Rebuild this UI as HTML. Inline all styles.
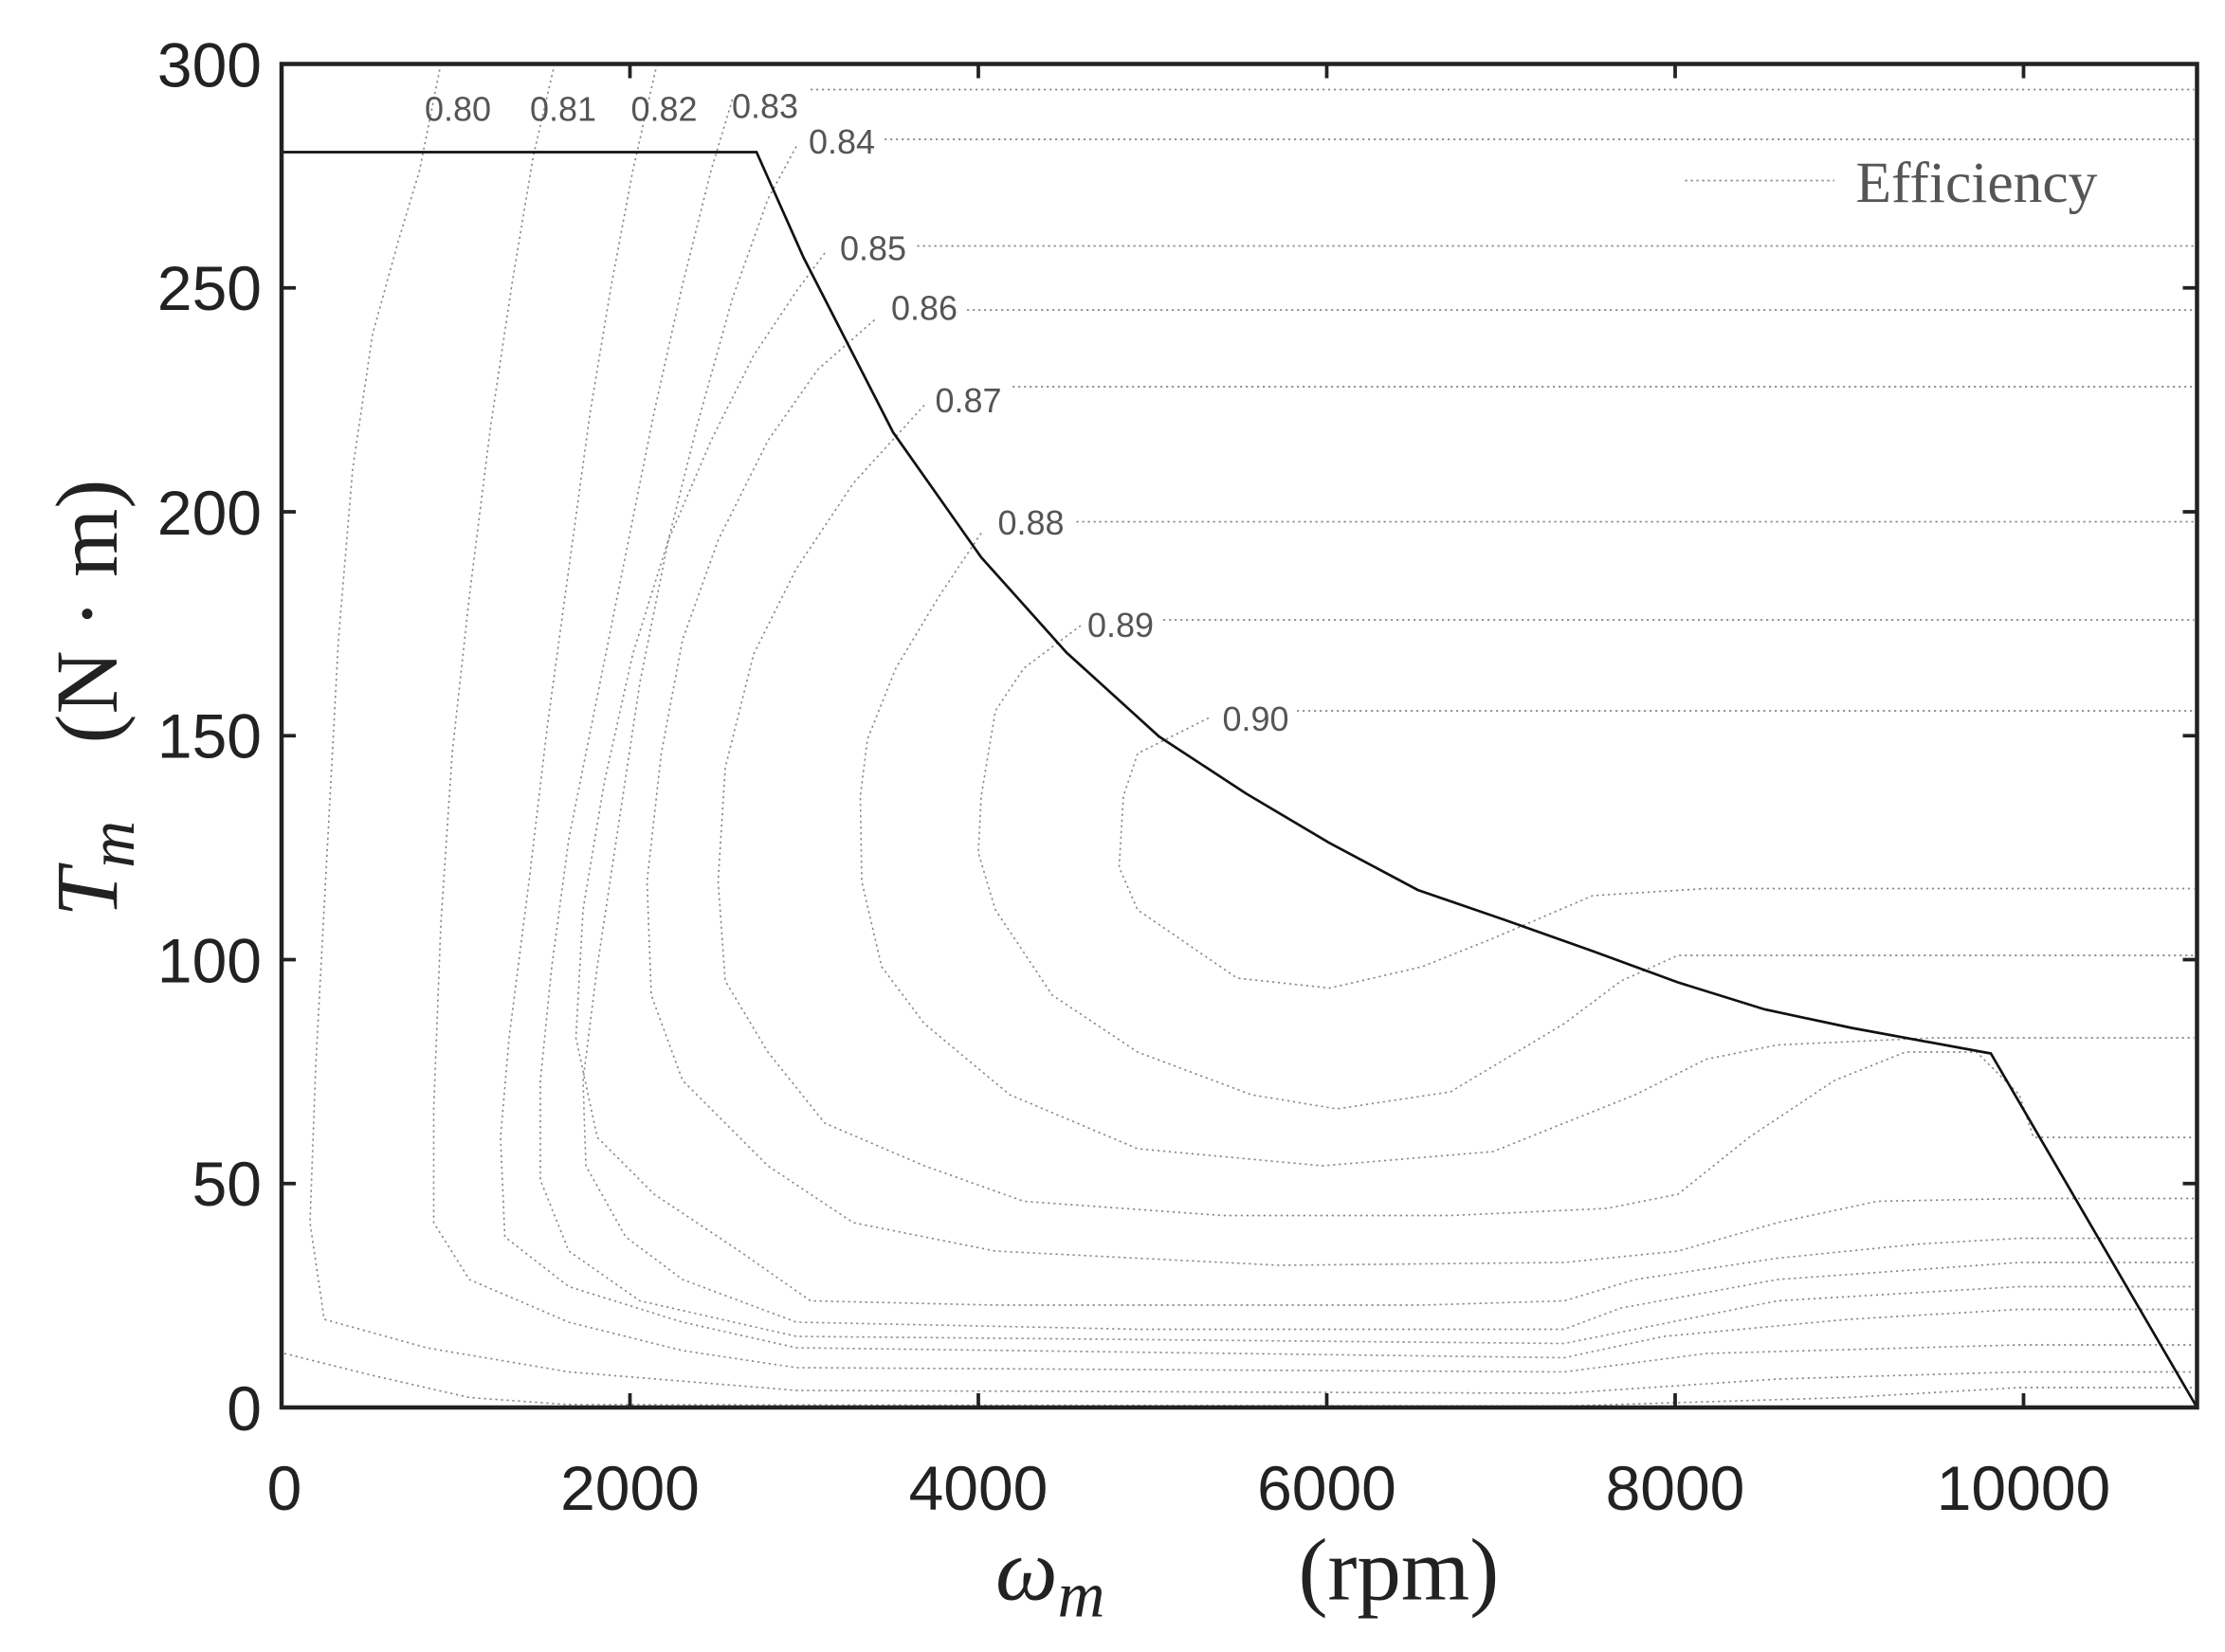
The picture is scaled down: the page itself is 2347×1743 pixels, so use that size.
<!DOCTYPE html>
<html><head><meta charset="utf-8"><style>
html,body{margin:0;padding:0;background:#fff;}
svg{display:block;}
</style></head><body>
<svg width="2347" height="1743" viewBox="0 0 1564.67 1162" xmlns="http://www.w3.org/2000/svg">
<rect width="1564.67" height="1162" fill="#fff"/>
<g fill="none" stroke="#8a8a8a" stroke-width="1.1" stroke-dasharray="1.5 2.5">
<path d="M570,63 H1543"/>
<path d="M622,98 H1543"/>
<path d="M645,173 H1543"/>
<path d="M680,218 H1543"/>
<path d="M712,272 H1543"/>
<path d="M757,367 H1543"/>
<path d="M818,436 H1543"/>
<path d="M912,500 H1543"/>
<path d="M850,505 L800,530 790,560 787,610 800,640 870,688 935,695 1000,680 1050,660 1120,630 1200,625 1543,625"/>
<path d="M760,440 L720,470 700,500 690,560 688,600 700,640 740,700 800,740 880,770 940,780 1020,768 1100,720 1140,690 1180,672 1543,672"/>
<path d="M690,375 L660,420 630,470 610,520 605,560 606,620 620,680 650,720 710,770 800,808 930,820 1050,810 1150,770 1200,745 1250,735 1360,730 1543,730"/>
<path d="M650,285 L600,340 560,400 530,460 510,540 505,620 510,690 540,740 580,790 650,820 720,845 860,855 1020,855 1130,850 1180,840 1230,800 1290,760 1340,740 1390,740 1420,770 1430,800 1543,800"/>
<path d="M615,225 L575,260 540,310 505,380 480,450 465,530 455,620 458,700 480,760 540,820 600,860 700,880 900,890 1100,888 1180,880 1250,860 1320,845 1420,843 1543,843"/>
<path d="M580,178 L560,205 530,250 500,310 470,380 445,460 425,550 410,640 405,730 420,800 460,840 520,880 570,915 700,918 1000,918 1100,915 1150,900 1250,885 1350,875 1420,871 1543,871"/>
<path d="M560,103 L540,140 515,210 490,300 470,380 450,480 435,580 420,680 410,760 412,820 440,870 480,900 560,930 800,935 1100,935 1140,920 1250,900 1420,888 1543,888"/>
<path d="M515,70 L500,120 480,200 460,290 440,390 420,490 400,590 388,680 380,760 380,830 400,880 450,915 560,940 1100,945 1150,935 1250,915 1420,905 1543,905"/>
<path d="M462,45 L445,120 430,200 415,290 400,400 385,510 372,620 358,730 352,800 355,870 400,905 480,930 560,948 1100,955 1170,940 1300,928 1420,921 1543,921"/>
<path d="M390,45 L375,110 360,200 345,300 330,420 318,530 310,650 305,780 305,860 330,900 400,930 480,950 560,962 1100,965 1200,952 1420,946 1543,946"/>
<path d="M310,45 L295,120 280,170 262,235 248,330 238,450 230,600 222,750 218,860 228,928 300,948 400,965 560,978 1100,980 1250,970 1420,965 1543,965"/>
<path d="M200,952 L260,967 330,983 400,988 1100,989 1300,983 1420,976 1543,976"/>
<path d="M1185,127 H1290"/>
</g>
<polyline fill="none" stroke="#111" stroke-width="1.8" points="198,107 532,107 565,181 628,304 690,392 750,459 815,518 876,558 935,593 997,626 1058,647 1120,669 1180,691 1241,710 1302,723 1400,741 1545,990"/>
<g font-family="Liberation Sans, sans-serif" font-size="24" fill="#555" text-anchor="middle">
<text x="322" y="85">0.80</text>
<text x="396" y="85">0.81</text>
<text x="467" y="85">0.82</text>
<text x="538" y="83">0.83</text>
<text x="592" y="108">0.84</text>
<text x="614" y="183">0.85</text>
<text x="650" y="225">0.86</text>
<text x="681" y="290">0.87</text>
<text x="725" y="376">0.88</text>
<text x="788" y="448">0.89</text>
<text x="883" y="514">0.90</text>
</g>
<text x="1305" y="142" font-family="Liberation Serif, serif" font-size="41" fill="#555">Efficiency</text>
<rect x="198" y="45" width="1347" height="945" fill="none" stroke="#222" stroke-width="3"/>
<g stroke="#222" stroke-width="2.5">
<path d="M443,990 v-10 M688,990 v-10 M933,990 v-10 M1178,990 v-10 M1423,990 v-10"/>
<path d="M443,45 v10 M688,45 v10 M933,45 v10 M1178,45 v10 M1423,45 v10"/>
<path d="M198,832.5 h10 M198,675 h10 M198,517.5 h10 M198,360 h10 M198,202.5 h10"/>
<path d="M1545,832.5 h-10 M1545,675 h-10 M1545,517.5 h-10 M1545,360 h-10 M1545,202.5 h-10"/>
</g>
<g font-family="Liberation Sans, sans-serif" font-size="44" fill="#222" text-anchor="end">
<text x="184" y="1006">0</text>
<text x="184" y="848">50</text>
<text x="184" y="691">100</text>
<text x="184" y="533">150</text>
<text x="184" y="376">200</text>
<text x="184" y="218">250</text>
<text x="184" y="61">300</text>
</g>
<g font-family="Liberation Sans, sans-serif" font-size="44" fill="#222" text-anchor="middle">
<text x="200" y="1062">0</text>
<text x="443" y="1062">2000</text>
<text x="688" y="1062">4000</text>
<text x="933" y="1062">6000</text>
<text x="1178" y="1062">8000</text>
<text x="1423" y="1062">10000</text>
</g>
<text x="700" y="1125" font-family="Liberation Serif, serif" font-size="62" fill="#222"><tspan font-style="italic">ω</tspan><tspan font-style="italic" font-size="46" dy="12">m</tspan><tspan x="913" dy="-12">(rpm)</tspan></text>
<text transform="translate(82,645) rotate(-90)" font-family="Liberation Serif, serif" font-size="62" fill="#222"><tspan font-style="italic">T</tspan><tspan font-style="italic" font-size="46" dy="12">m</tspan><tspan x="122" dy="-12">(N · m)</tspan></text>
</svg>
</body></html>
